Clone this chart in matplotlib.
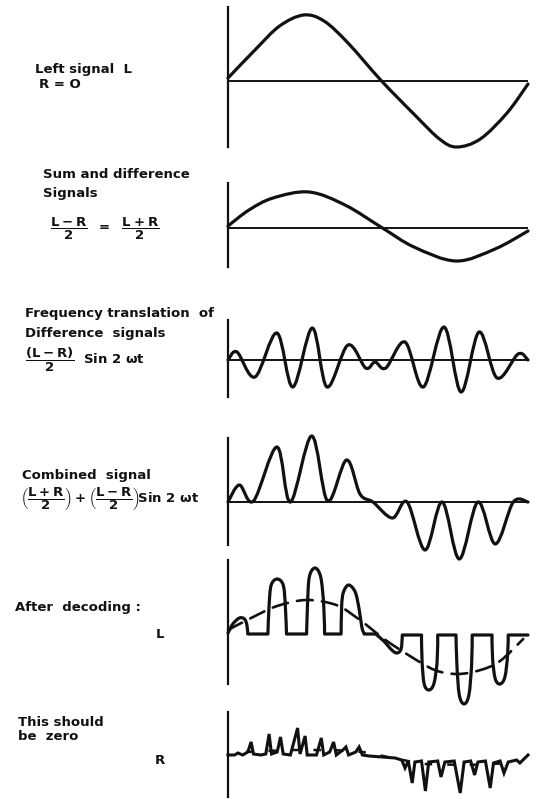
"""Stereo multiplex signals: encoding and decoding of a left-only signal."""

import matplotlib

matplotlib.use("Agg")
import matplotlib.pyplot as plt
import numpy as np
from matplotlib.patches import PathPatch
from matplotlib.path import Path

# waveform samples: t is the fraction of one audio period,
# y is the height above the zero line (in pixels of the original figure)
left_t = [0, 0.093, 0.172, 0.252, 0.32, 0.40, 0.512, 0.626, 0.705, 0.762, 0.841, 0.93, 1.0]
left_y = [3, 32, 55, 66, 60, 38, 0, -35, -58, -66, -58, -32, -3]

sum_t = [0, 0.07, 0.15, 0.27, 0.39, 0.515, 0.62, 0.76, 0.89, 1.0]
sum_y = [2, 18, 30, 36, 23, 0, -19, -33, -21, -3]

diff_t = [0, 0.03, 0.09, 0.163, 0.216, 0.281, 0.33, 0.40, 0.459, 0.49, 0.526,
          0.59, 0.651, 0.72, 0.777, 0.837, 0.897, 0.967, 1.0]
diff_y = [0, 8, -17, 27, -27, 32, -27, 15, -8, -2, -8, 18, -27, 33, -32, 28, -18, 6, 0]

comb_t = [0, 0.038, 0.085, 0.163, 0.208, 0.279, 0.332, 0.395, 0.44, 0.483, 0.548,
          0.597, 0.657, 0.714, 0.771, 0.833, 0.891, 0.951, 1.0]
comb_y = [0, 17, 1, 55, 0, 66, 1, 42, 8, 0, -16, 0, -48, 0, -57, 0, -42, 0, 0]

dec_l_t = [0, 0.016, 0.038, 0.055, 0.063, 0.066, 0.133, 0.137, 0.144, 0.164, 0.184,
           0.191, 0.195, 0.262, 0.265, 0.271, 0.290, 0.309, 0.319, 0.322, 0.377,
           0.379, 0.385, 0.402, 0.424, 0.437, 0.446, 0.454, 0.492, 0.519, 0.546,
           0.563, 0.577, 0.581, 0.645, 0.647, 0.654, 0.669, 0.686, 0.697, 0.699,
           0.760, 0.763, 0.771, 0.787, 0.803, 0.812, 0.814, 0.880, 0.882, 0.891,
           0.907, 0.923, 0.932, 0.934, 1.0]
dec_l_y = [1, 10, 16, 15, 9, 0, 0, 29, 49, 55, 49,
           29, 0, 0, 29, 57, 66, 57, 29, 0, 0,
           29, 42, 49, 42, 25, 7, 0, 0, -7, -16,
           -19, -15, -1, -1, -28, -50, -56, -50, -28, -1,
           -1, -31, -61, -70, -61, -31, -1, -1, -25, -45,
           -50, -43, -21, -1, -1]

ref_l_t = [0, 0.077, 0.164, 0.262, 0.361, 0.426, 0.47, 0.525, 0.601, 0.689, 0.765,
           0.842, 0.907, 0.984]
ref_l_y = [4, 16, 28, 34, 29, 17, 7, -6, -21, -36, -40, -36, -27, -5]

dec_r_t = [0, 0.022, 0.033, 0.049, 0.066, 0.077, 0.085, 0.109, 0.126, 0.137, 0.145,
           0.164, 0.175, 0.184, 0.208, 0.232, 0.240, 0.257, 0.264, 0.295, 0.311,
           0.319, 0.339, 0.352, 0.361, 0.383, 0.393, 0.402, 0.426, 0.437, 0.448,
           0.470, 0.557, 0.579, 0.590, 0.601, 0.614, 0.623, 0.645, 0.658, 0.669,
           0.699, 0.710, 0.723, 0.754, 0.774, 0.787, 0.809, 0.822, 0.833, 0.858,
           0.874, 0.885, 0.907, 0.920, 0.934, 0.962, 0.973, 1.0]
dec_r_y = [0, 0, 2, 0, 3, 13, 1, 0, 1, 21, 1,
           3, 18, 1, 0, 27, 1, 19, 0, 0, 17,
           0, 3, 13, 0, 5, 8, 0, 3, 8, 0,
           -1, -3, -5, -13, -6, -28, -7, -6, -36, -7,
           -6, -22, -7, -6, -38, -7, -6, -20, -7, -6,
           -33, -8, -6, -18, -7, -5, -8, 0]

ref_r_t = [0.06, 0.2, 0.35, 0.45, 0.55, 0.65, 0.8, 0.95]
ref_r_y = [3, 5, 5, 3, -3, -9, -10, -8]

W, H = 542, 799
X0, X1 = 228, 528
INK = "#111111"


def smooth_path(t, y, sharp_flats=False):
    """Catmull-Rom curve through the points as a cubic Bezier path."""
    pts = np.column_stack([t, y]).astype(float)
    n = len(pts)

    def corner(i):
        if not sharp_flats or i <= 0 or i >= n - 1:
            return False
        return pts[i, 1] == pts[i - 1, 1] or pts[i, 1] == pts[i + 1, 1]

    verts = [pts[0]]
    codes = [Path.MOVETO]
    for i in range(n - 1):
        p0, p1 = pts[max(i - 1, 0)], pts[i]
        p2, p3 = pts[i + 1], pts[min(i + 2, n - 1)]
        c1 = p1 if corner(i) else p1 + (p2 - p0) / 6
        c2 = p2 if corner(i + 1) else p2 - (p3 - p1) / 6
        verts += [c1, c2, p2]
        codes += [Path.CURVE4] * 3
    return Path(verts, codes)


def panel(fig, top, bottom, base, baseline=True):
    ax = fig.add_axes([X0 / W, 1 - bottom / H, (X1 - X0) / W, (bottom - top) / H])
    ax.set_xlim(0, 1)
    ax.set_ylim(-(bottom - base), base - top)
    for side in ("top", "right", "bottom"):
        ax.spines[side].set_visible(False)
    ax.spines["left"].set_linewidth(1.6)
    ax.spines["left"].set_color(INK)
    ax.set_xticks([])
    ax.set_yticks([])
    ax.patch.set_alpha(0)
    if baseline:
        ax.axhline(0, color=INK, lw=1.4)
    return ax


def curve(ax, t, y, sharp=False, lw=2.3, ls="-"):
    patch = PathPatch(smooth_path(t, y, sharp), fill=False, edgecolor=INK, lw=lw,
                      linestyle=ls, capstyle="round", joinstyle="round", clip_on=False)
    ax.add_patch(patch)


def label(fig, x, y, s, size=9.5, ha="left"):
    fig.text(x / W, 1 - y / H, s, ha=ha, va="center", fontsize=size,
             fontweight="bold", color=INK, family="DejaVu Sans")


plt.rcParams["mathtext.fontset"] = "custom"
plt.rcParams["mathtext.rm"] = "DejaVu Sans:bold"
plt.rcParams["mathtext.it"] = "DejaVu Sans:bold"
plt.rcParams["mathtext.bf"] = "DejaVu Sans:bold"

fig = plt.figure(figsize=(W / 100, H / 100), dpi=100)
fig.patch.set_facecolor("white")

ax1 = panel(fig, 7, 147, 81)
curve(ax1, left_t, left_y)
ax2 = panel(fig, 183, 267, 228)
curve(ax2, sum_t, sum_y)
ax3 = panel(fig, 320, 397, 360)
curve(ax3, diff_t, diff_y)
ax4 = panel(fig, 438, 545, 502)
curve(ax4, comb_t, comb_y)
ax5 = panel(fig, 560, 684, 634, baseline=False)
curve(ax5, dec_l_t, dec_l_y, sharp=True)
curve(ax5, ref_l_t, ref_l_y, lw=1.9, ls=(0, (6, 3.5)))
ax6 = panel(fig, 712, 797, 755, baseline=False)
ax6.plot(dec_r_t, dec_r_y, color=INK, lw=2.2, solid_joinstyle="miter", clip_on=False)
ax6.plot(ref_r_t, ref_r_y, color=INK, lw=1.8, ls=(0, (3, 6)), clip_on=False)

label(fig, 35, 70, "Left signal  L")
label(fig, 39, 84, "R = O")
label(fig, 43, 175, "Sum and difference")
label(fig, 43, 194, "Signals")
label(fig, 50, 229, r"$\dfrac{L-R}{2}\ \ =\ \ \dfrac{L+R}{2}$")
label(fig, 25, 313, "Frequency translation  of")
label(fig, 25, 334, "Difference  signals")
label(fig, 25, 360, r"$\dfrac{(L-R)}{2}\ \ \mathrm{Sin\ 2\ \omega t}$")
label(fig, 22, 475, "Combined  signal")
label(fig, 20, 499, r"$\left(\dfrac{L+R}{2}\right)+\left(\dfrac{L-R}{2}\right)\!\mathrm{Sin\ 2\ \omega t}$")
label(fig, 15, 607, "After  decoding :")
label(fig, 156, 634, "L")
label(fig, 18, 722, "This should")
label(fig, 18, 737, "be  zero")
label(fig, 155, 760, "R")

fig.savefig("out.png", dpi=100, facecolor="white")
